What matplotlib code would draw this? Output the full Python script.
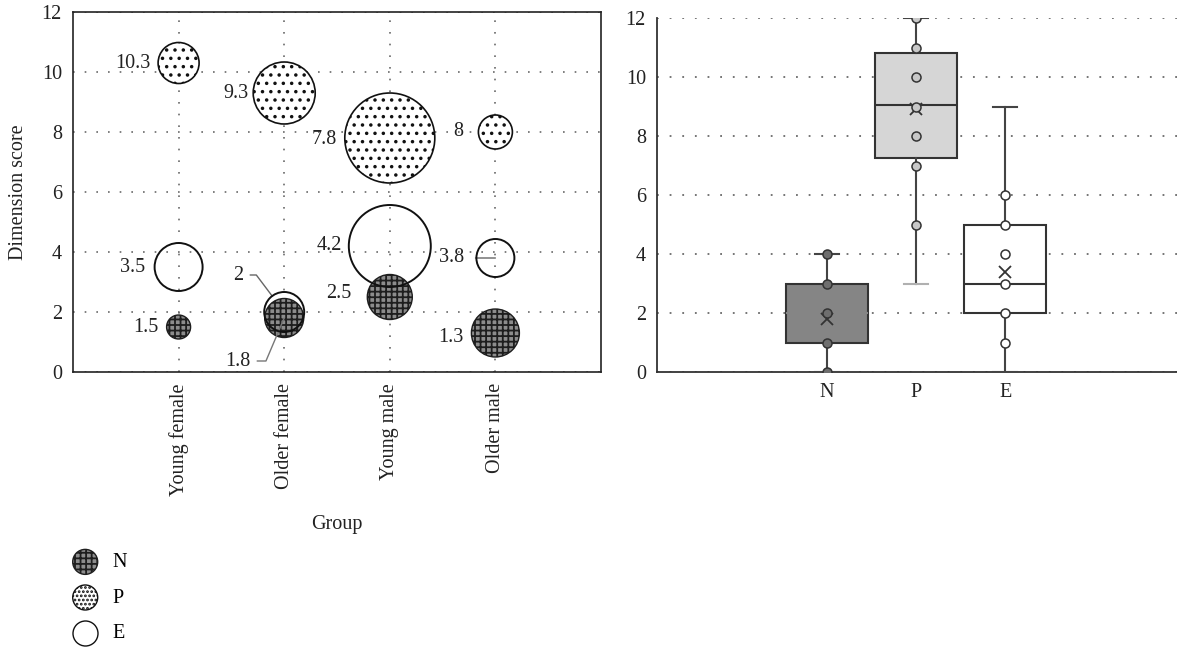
import numpy as np
import matplotlib
matplotlib.use("Agg")
import matplotlib.pyplot as plt

plt.rcParams['font.family'] = ['Liberation Serif', 'DejaVu Serif']
plt.rcParams['hatch.linewidth'] = 1.3

# left panel: bubble chart
groups = ["Young female", "Older female", "Young male", "Older male"]
n_vals = [1.5, 1.8, 2.5, 1.3]
p_vals = [10.3, 9.3, 7.8, 8.0]
e_vals = [3.5, 2.0, 4.2, 3.8]
# bubble diameters (relative size)
n_size = [24, 39, 45, 48]
p_size = [41, 62, 90, 34]
e_size = [48, 40, 82, 38]

# right panel: box plots
box_names = ["N", "P", "E"]
box_lo = [0, 3, 0]
box_q1 = [1, 7.25, 2]
box_med = [2, 9.05, 3]
box_q3 = [3, 10.8, 5]
box_hi = [4, 12, 9]
box_mean = [1.8, 8.9, 3.4]
n_points = [0, 1, 2, 3, 4]
p_points = [5, 7, 8, 9, 10, 11, 12]
e_points = [1, 2, 3, 4, 5, 6]

W, H = 1177, 650
fig = plt.figure(figsize=(W / 100, H / 100), dpi=100)
ax1 = fig.add_axes([73 / W, 1 - 372 / H, (601 - 73) / W, (372 - 12) / H])
ax2 = fig.add_axes([657 / W, 1 - 372 / H, (W - 657) / W, (372 - 18) / H])

PT = 0.72  # points per pixel at dpi 100
dot = (0, (1, 6))
FS = 14.5

# ---- bubbles ----
x = np.arange(1, 5)
sN = [(d * PT) ** 2 for d in n_size]
sP = [(d * PT) ** 2 for d in p_size]
sE = [(d * PT) ** 2 for d in e_size]
hN = ax1.scatter(x, n_vals, s=sN, facecolor='#8c8c8c', edgecolor='#1e1e1e',
                 hatch='+++', linewidth=1.0, zorder=3, label='N')
hP = ax1.scatter(x, p_vals, s=sP, facecolor='white', edgecolor='#111111',
                 hatch='..', linewidth=1.2, zorder=3, label='P')
hE = ax1.scatter(x, e_vals, s=sE, facecolor='none', edgecolor='#111111',
                 linewidth=1.4, zorder=4, label='E')

# value labels left of the bubbles (gap, vertical nudge in pixels)
nudge = {('P', 0): (8, 0), ('P', 1): (5, 0), ('P', 2): (8, -2), ('P', 3): (15, 0),
         ('E', 0): (9, 0), ('E', 2): (7, 0),
         ('N', 0): (8, 0), ('N', 2): (16, 4), ('N', 3): (8, -4)}
series = {'N': (n_vals, n_size), 'P': (p_vals, p_size), 'E': (e_vals, e_size)}
for key, (gap, dy) in nudge.items():
    vals, sizes = series[key[0]]
    i = key[1]
    v = vals[i]
    lab = f"{v:g}"
    ax1.annotate(lab, xy=(x[i], v), xytext=(-(sizes[i] / 2 + gap), dy),
                 textcoords='offset pixels', ha='right', va='center',
                 fontsize=FS, color='#222222', zorder=5)

# labels with leader lines
ax1.annotate(f"{e_vals[1]:g}", xy=(x[1], e_vals[1]), xytext=(-41, 37),
             textcoords='offset pixels', ha='right', va='center', fontsize=FS,
             color='#222222',
             arrowprops=dict(arrowstyle='-', color='#666666', lw=1.0, relpos=(1, 0.5),
                             shrinkA=3, shrinkB=e_size[1] / 2 * PT,
                             connectionstyle='angle,angleA=0,angleB=127,rad=0'))
ax1.annotate(f"{n_vals[1]:g}", xy=(x[1], n_vals[1]), xytext=(-34, -43),
             textcoords='offset pixels', ha='right', va='center', fontsize=FS,
             color='#222222',
             arrowprops=dict(arrowstyle='-', color='#777777', lw=1.0, relpos=(1, 0.5),
                             shrinkA=3, shrinkB=0,
                             connectionstyle='angle,angleA=0,angleB=67,rad=0'))
ax1.annotate(f"{e_vals[3]:g}", xy=(x[3], e_vals[3]), xytext=(-31, 0),
             textcoords='offset pixels', ha='right', va='center', fontsize=FS,
             color='#222222',
             arrowprops=dict(arrowstyle='-', color='#666666', lw=1.0, relpos=(1, 0.5),
                             shrinkA=6, shrinkB=0))

ax1.set_xlim(0, 5)
ax1.set_ylim(0, 12)
ax1.set_xticks(x)
ax1.set_xticklabels(groups, rotation=90, fontsize=FS)
ax1.set_yticks(range(0, 13, 2))
ax1.tick_params(axis='both', length=0, labelsize=FS, colors='#222222')
ax1.tick_params(axis='y', pad=8)
ax1.tick_params(axis='x', pad=8)
ax1.grid(True, color='#6a6a6a', linestyle=dot, linewidth=1.2)
ax1.set_axisbelow(True)
for sp in ax1.spines.values():
    sp.set_color('#222222')
    sp.set_linewidth(1.2)
ax1.set_xlabel("Group", fontsize=FS, color='#222222', labelpad=14)
ax1.set_ylabel("Dimension score", fontsize=FS, color='#222222', labelpad=10)

leg = fig.legend(handles=[hN, hP, hE], labels=['N', 'P', 'E'],
                 loc='upper left', bbox_to_anchor=(55 / W, 1 - 543 / H),
                 frameon=False, fontsize=FS, scatterpoints=1,
                 labelspacing=0.82, handletextpad=0.35, borderpad=0)
for h in leg.legend_handles:
    h.set_sizes([(25 * PT) ** 2])
    h.set_linewidth(1.0)
leg.legend_handles[1].set_hatch('....')
leg.legend_handles[2].set_facecolor('white')

# ---- box plots ----
stats = []
for i in range(3):
    stats.append(dict(label=box_names[i], whislo=box_lo[i], q1=box_q1[i], med=box_med[i],
                      q3=box_q3[i], whishi=box_hi[i], mean=box_mean[i], fliers=[]))
pos = [1, 2, 3]
bp = ax2.bxp(stats, positions=pos, widths=0.92, patch_artist=True, showmeans=True,
             showfliers=False,
             boxprops=dict(edgecolor='#333333', linewidth=1.5),
             whiskerprops=dict(color='#444444', linewidth=1.5),
             capprops=dict(color='#444444', linewidth=1.5),
             medianprops=dict(color='#333333', linewidth=1.5),
             meanprops=dict(marker='x', markersize=9, markeredgecolor='#333333',
                            markeredgewidth=1.3),
             capwidths=0.27, zorder=3)
face = ['#858585', '#d6d6d6', 'white']
for patch, fc in zip(bp['boxes'], face):
    patch.set_facecolor(fc)
bp['medians'][0].set_color(face[0])
bp['caps'][2].set_color('#b0b0b0')

pts = [n_points, p_points, e_points]
pt_face = ['#6e6e6e', '#c8c8c8', 'white']
for p, vals, fc in zip(pos, pts, pt_face):
    ax2.plot([p] * len(vals), vals, 'o', markersize=6.5, markerfacecolor=fc,
             markeredgecolor='#333333', markeredgewidth=1.1, zorder=5)

ax2.set_xlim(-0.91, 4.93)
ax2.set_ylim(0, 12)
ax2.set_yticks(range(0, 13, 2))
ax2.set_xticks(pos)
ax2.set_xticklabels(box_names)
ax2.tick_params(axis='both', length=0, labelsize=FS, colors='#222222')
ax2.tick_params(axis='y', pad=8)
ax2.tick_params(axis='x', pad=8)
ax2.yaxis.grid(True, color='#6a6a6a', linestyle=dot, linewidth=1.3)
ax2.set_axisbelow(True)
ax2.spines['top'].set_visible(False)
ax2.spines['right'].set_visible(False)
for s in ['left', 'bottom']:
    ax2.spines[s].set_color('#333333')
    ax2.spines[s].set_linewidth(1.3)

fig.savefig("out.png", dpi=100)
